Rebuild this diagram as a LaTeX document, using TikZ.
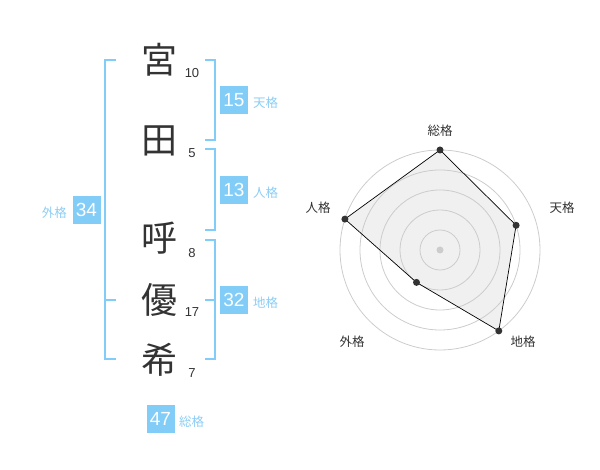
\documentclass[tikz,border=0pt]{standalone}
\usepackage{fontspec}
\setmainfont{Liberation Sans}
\newfontfamily\jp{Noto Sans CJK JP}
\definecolor{kblue}{RGB}{130,204,248}
\definecolor{klabel}{RGB}{140,205,245}
\definecolor{kdark}{RGB}{51,51,51}
\definecolor{kring}{RGB}{204,204,204}
\begin{document}
\begin{tikzpicture}[x=1pt,y=-1pt,
  kanji/.style={font=\jp\fontsize{36}{36}\selectfont, text=kdark, inner sep=0pt},
  strokes/.style={font=\fontsize{13}{13}\selectfont, text=kdark, inner sep=0pt},
  valbox/.style={fill=kblue, text=white, minimum size=28pt, inner sep=0pt, font=\fontsize{19}{19}\selectfont},
  kaku/.style={font=\jp\fontsize{12.5}{12.5}\selectfont, text=klabel, inner sep=0pt},
  brk/.style={draw=kblue, line width=2pt},
  ring/.style={draw=kring, line width=0.8pt},
  axlabel/.style={font=\jp\fontsize{12.5}{12.5}\selectfont, text=kdark, inner sep=0pt},
  pt/.style={circle, fill=kdark, minimum size=7pt, inner sep=0pt}
]
\useasboundingbox (0,0) rectangle (600,470);
% kanji
\node[kanji] (k1) at (159,60) {宮};
\node[kanji] (k2) at (159,141) {田};
\node[kanji] (k3) at (159,238) {呼};
\node[kanji] (k4) at (159,300) {優};
\node[kanji] (k5) at (159,360) {希};
% stroke counts
\node[strokes] (s1) at (192,73) {10};
\node[strokes] (s2) at (192,153) {5};
\node[strokes] (s3) at (192,253) {8};
\node[strokes] (s4) at (192,312) {17};
\node[strokes] (s5) at (192,373) {7};
% brackets
\draw[brk] (205,60) -- (215,60) -- (215,140) -- (205,140);
\draw[brk] (205,149) -- (215,149) -- (215,230) -- (205,230);
\draw[brk] (205,240) -- (215,240) -- (215,359) -- (205,359);
\draw[brk] (205,300) -- (215,300);
\draw[brk] (116,60) -- (105,60) -- (105,359) -- (116,359);
\draw[brk] (105,300) -- (116,300);
% values
\node[valbox] (v1) at (234,100) {15};
\node[kaku, anchor=west] (l1) at (253,103) {天格};
\node[valbox] (v2) at (234,190) {13};
\node[kaku, anchor=west] (l2) at (253,193) {人格};
\node[valbox] (v3) at (234,300) {32};
\node[kaku, anchor=west] (l3) at (253,303) {地格};
\node[valbox] (v4) at (86.5,210) {34};
\node[kaku, anchor=east] (l4) at (67,213) {外格};
\node[valbox] (v5) at (160.5,419) {47};
\node[kaku, anchor=west] (l5) at (179,422) {総格};
% radar
\coordinate (c) at (440,250);
\foreach \r in {20,40,60,80,100} \draw[ring] (c) circle[radius=\r];
\fill[kring] (c) circle[radius=3.5];
\coordinate (pS) at (440,150);
\coordinate (pT) at (516.1,225.3);
\coordinate (pC) at (498.8,330.9);
\coordinate (pG) at (416.5,282.4);
\coordinate (pJ) at (344.9,219.1);
\draw[fill=black!20, fill opacity=0.3, draw=black, line width=0.7pt] (pS) -- (pT) -- (pC) -- (pG) -- (pJ) -- cycle;
\foreach \p in {pS,pT,pC,pG,pJ} \node[pt] at (\p) {};
\node[axlabel] (aS) at (440,131) {総格};
\node[axlabel] (aT) at (562,208) {天格};
\node[axlabel] (aC) at (523,342) {地格};
\node[axlabel] (aG) at (352,342) {外格};
\node[axlabel] (aJ) at (318,208) {人格};
\end{tikzpicture}
\end{document}
